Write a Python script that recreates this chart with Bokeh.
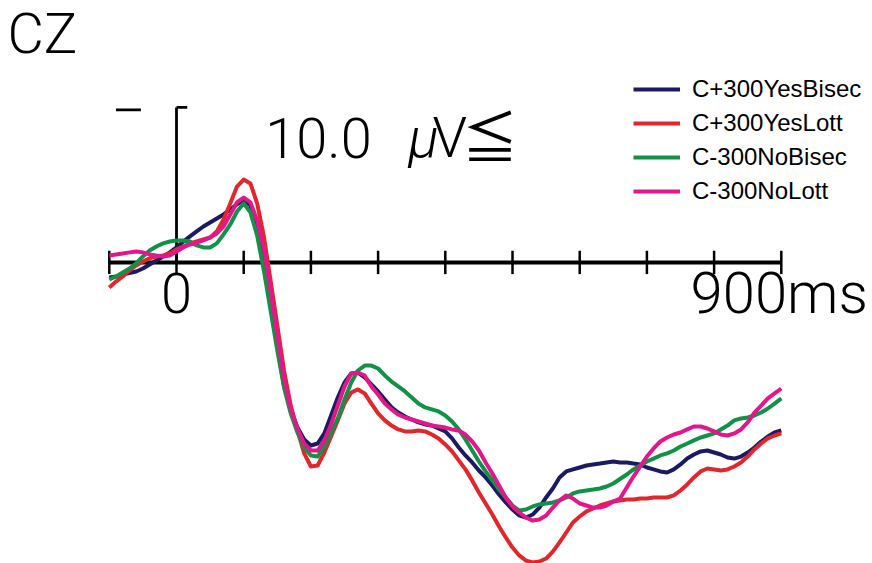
from bokeh.plotting import figure
from bokeh.models import Range1d, Label, Legend, LegendItem
from bokeh.embed import file_html
from bokeh.resources import INLINE

# ---- data (time in ms, amplitude in microvolts; negative plotted up) ----
t_ms = [-100, -90, -80, -70, -60, -50, -40, -30, -20, -10, 0,
        10, 20, 30, 40, 50, 60, 70, 80, 90, 100,
        110, 120, 130, 140, 150, 160, 170, 180, 190, 200,
        210, 220, 230, 240, 250, 260, 270, 280, 290, 300,
        310, 320, 330, 340, 350, 360, 370, 380, 390, 400,
        410, 420, 430, 440, 450, 460, 470, 480, 490, 500,
        510, 520, 530, 540, 550, 560, 570, 580, 590, 600,
        610, 620, 630, 640, 650, 660, 670, 680, 690, 700,
        710, 720, 730, 740, 750, 760, 770, 780, 790, 800,
        810, 820, 830, 840, 850, 860, 870, 880, 890, 900]

yes_bisec = [0.97, 0.90, 0.77, 0.68, 0.58, 0.39, 0.13, -0.13, -0.39, -0.65, -0.97,
             -1.35, -1.68, -2.00, -2.32, -2.58, -2.84, -3.10, -3.42, -3.74, -4.06,
             -3.68, -2.19, 0.19, 2.77, 5.35, 7.94, 9.55, 10.65, 11.42, 11.81,
             11.68, 11.03, 9.87, 8.71, 7.74, 7.16, 7.10, 7.42, 7.87, 8.32,
             8.84, 9.35, 9.68, 9.94, 10.13, 10.32, 10.45, 10.52, 10.71, 10.90,
             11.35, 11.94, 12.45, 12.90, 13.42, 13.87, 14.39, 14.97, 15.48, 15.94,
             16.32, 16.45, 16.26, 15.81, 15.16, 14.58, 13.87, 13.48, 13.35, 13.23,
             13.10, 13.03, 12.97, 12.90, 12.84, 12.90, 12.90, 12.97, 13.03, 13.23,
             13.35, 13.48, 13.55, 13.35, 13.03, 12.65, 12.39, 12.19, 12.13, 12.26,
             12.39, 12.58, 12.65, 12.52, 12.26, 11.94, 11.55, 11.23, 10.97, 10.84]

yes_lott = [1.61, 1.23, 0.90, 0.52, 0.19, -0.06, -0.26, -0.39, -0.45, -0.58, -0.84,
            -1.03, -1.23, -1.35, -1.48, -1.61, -2.00, -2.77, -3.81, -4.90, -5.35,
            -5.10, -3.81, -1.68, 1.16, 4.06, 6.97, 9.23, 10.84, 12.32, 13.16,
            13.10, 12.26, 11.23, 10.19, 9.10, 8.39, 8.19, 8.45, 9.10, 9.74,
            10.19, 10.52, 10.77, 10.90, 10.90, 10.84, 10.90, 11.10, 11.35, 11.74,
            12.19, 12.77, 13.35, 14.06, 14.84, 15.55, 16.26, 17.03, 17.74, 18.39,
            18.90, 19.23, 19.35, 19.29, 19.10, 18.65, 18.06, 17.42, 16.77, 16.39,
            16.06, 15.87, 15.68, 15.55, 15.42, 15.35, 15.29, 15.29, 15.23, 15.23,
            15.16, 15.16, 15.16, 15.03, 14.71, 14.32, 13.87, 13.48, 13.29, 13.35,
            13.42, 13.35, 13.16, 12.90, 12.52, 12.06, 11.68, 11.35, 11.16, 11.03]

no_bisec = [1.10, 0.90, 0.65, 0.39, 0.06, -0.39, -0.77, -1.03, -1.23, -1.35, -1.42,
            -1.42, -1.35, -1.10, -0.97, -0.97, -1.23, -1.81, -2.45, -3.29, -3.81,
            -3.23, -1.74, 0.52, 3.10, 5.68, 8.06, 9.74, 10.97, 11.94, 12.45,
            12.52, 11.87, 10.97, 10.06, 8.84, 7.74, 6.97, 6.65, 6.65, 6.84,
            7.29, 7.68, 8.00, 8.32, 8.71, 9.10, 9.35, 9.48, 9.61, 9.87,
            10.26, 10.77, 11.42, 12.13, 12.84, 13.48, 14.06, 14.65, 15.16, 15.68,
            16.00, 15.94, 15.74, 15.61, 15.55, 15.48, 15.35, 15.16, 14.90, 14.77,
            14.71, 14.65, 14.58, 14.45, 14.26, 13.97, 13.68, 13.35, 13.10, 12.84,
            12.65, 12.45, 12.32, 12.13, 11.87, 11.68, 11.48, 11.29, 11.16, 11.03,
            10.77, 10.52, 10.19, 10.06, 10.00, 9.87, 9.68, 9.42, 9.10, 8.77]

no_lott = [-0.45, -0.52, -0.58, -0.65, -0.71, -0.65, -0.52, -0.45, -0.39, -0.45, -0.71,
           -0.97, -1.16, -1.29, -1.42, -1.61, -1.87, -2.32, -3.10, -3.87, -4.19,
           -3.87, -2.71, -0.90, 1.81, 4.71, 7.48, 9.42, 10.71, 11.68, 12.13,
           12.13, 11.48, 10.45, 9.23, 8.00, 7.16, 7.10, 7.29, 8.00, 8.52,
           9.10, 9.48, 9.81, 10.00, 10.13, 10.26, 10.39, 10.52, 10.58, 10.65,
           10.77, 10.84, 11.10, 11.55, 12.13, 12.90, 13.61, 14.39, 15.16, 15.74,
           16.13, 16.45, 16.65, 16.58, 16.32, 15.81, 15.35, 15.03, 15.23, 15.55,
           15.68, 15.81, 15.81, 15.68, 15.42, 15.23, 14.52, 13.81, 13.16, 12.52,
           12.00, 11.55, 11.29, 11.10, 10.97, 10.77, 10.58, 10.58, 10.71, 10.90,
           11.10, 11.16, 11.03, 10.77, 10.32, 9.68, 9.23, 8.77, 8.45, 8.13]

series_names = ["C+300YesBisec", "C+300YesLott", "C-300NoBisec", "C-300NoLott"]
series_colors = ["#1c1a62", "#e3262b", "#109347", "#e4168a"]

tick_ms = [-100, 0, 100, 200, 300, 400, 500, 600, 700, 800, 900]
scale_uv = -10.0

# ---- figure ----
p = figure(width=872, height=563, output_backend="svg", toolbar_location=None,
           x_range=Range1d(-261.9, 1035.7), y_range=Range1d(19.42, -16.90),
           x_axis_type=None, y_axis_type=None, min_border=0)
p.grid.visible = False
p.outline_line_color = None
p.background_fill_color = "white"

# time axis
p.segment(x0=[tick_ms[0]], y0=[0], x1=[tick_ms[-1]], y1=[0],
          line_color="black", line_width=4)
p.segment(x0=tick_ms, y0=[-0.75] * len(tick_ms), x1=tick_ms, y1=[0.75] * len(tick_ms),
          line_color="black", line_width=2.5)

# amplitude scale bar
p.segment(x0=[0, 0, -90], y0=[0, scale_uv, scale_uv + 0.15],
          x1=[0, 16, -53], y1=[scale_uv, scale_uv, scale_uv + 0.15],
          line_color="black", line_width=2.8)

renderers = []
for vals, col in zip([yes_bisec, yes_lott, no_bisec, no_lott], series_colors):
    r = p.line(t_ms, vals, line_color=col, line_width=4, line_join="round")
    renderers.append(r)

font = "Roboto Light"


def add_label(x, y, text, size, align="left", style="normal", fnt=font):
    p.add_layout(Label(x=x, y=y, text=text, text_font=fnt, text_font_style=style,
                       text_font_size=size, text_align=align, text_color="black",
                       text_baseline="alphabetic"))


add_label(-251.5, -14.71, "CZ", "56px")
add_label(132, -8.0, "10.0", "56px")
add_label(345, -8.0, "\u03bc", "56px", style="italic")
add_label(381, -8.0, "V", "56px")
add_label(425, -8.32, "\u2266", "56px", fnt="Noto Sans CJK JP")
add_label(0, 1.94, "0", "56px", align="center")
add_label(765, 1.94, "900ms", "58px")

legend = Legend(items=[LegendItem(label=n, renderers=[r]) for n, r in zip(series_names, renderers)],
                location=(633, 358), orientation="vertical",
                border_line_color=None, background_fill_alpha=0,
                glyph_width=47, glyph_height=20, label_height=20, spacing=6,
                padding=0, margin=0, label_standoff=12,
                label_text_font="Liberation Sans", label_text_font_size="24px",
                label_text_color="black")
p.add_layout(legend)

open("out.html", "w").write(file_html(p, INLINE))
